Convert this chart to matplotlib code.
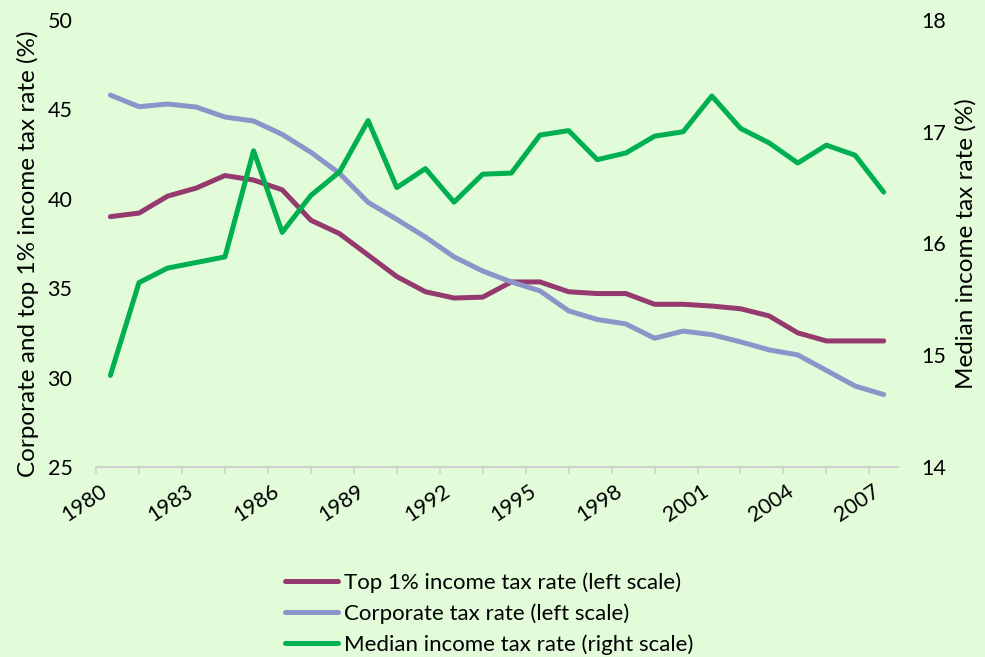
import numpy as np
import matplotlib
matplotlib.use("Agg")
import matplotlib.pyplot as plt

plt.rcParams['font.family'] = ['Lato', 'DejaVu Sans']

years = list(range(1980, 2008))
top1 = [39.0, 39.2, 40.15, 40.6, 41.3, 41.05, 40.5, 38.8, 38.05, 36.85,
        35.65, 34.8, 34.45, 34.5, 35.35, 35.35, 34.8, 34.7, 34.7, 34.1,
        34.1, 34.0, 33.85, 33.45, 32.5, 32.05, 32.05, 32.05]
corporate = [45.8, 45.15, 45.3, 45.13, 44.57, 44.35, 43.6, 42.6, 41.42, 39.8,
             38.85, 37.86, 36.75, 35.96, 35.35, 34.85, 33.73, 33.25, 33.0, 32.2,
             32.6, 32.4, 32.0, 31.55, 31.27, 30.4, 29.53, 29.05]
median = [14.82, 15.65, 15.78, 15.83, 15.88, 16.83, 16.1, 16.43, 16.64, 17.1,
          16.5, 16.67, 16.37, 16.62, 16.63, 16.97, 17.01, 16.75, 16.81, 16.96,
          17.0, 17.32, 17.03, 16.9, 16.72, 16.88, 16.79, 16.46]

bg = '#E2FCD9'
fig = plt.figure(figsize=(9.85, 6.57), dpi=100, facecolor=bg)
ax = fig.add_axes([0.0975, 0.2892, 0.8142, 0.6804], facecolor=bg)
ax2 = ax.twinx()

x = np.arange(len(years))
l1, = ax.plot(x, top1, color='#953A6E', lw=3.6, solid_capstyle='round', label='Top 1% income tax rate (left scale)')
l2, = ax.plot(x, corporate, color='#8C94CA', lw=3.6, solid_capstyle='round', label='Corporate tax rate (left scale)')
l3, = ax2.plot(x, median, color='#00B050', lw=3.6, solid_capstyle='round', label='Median income tax rate (right scale)')

ax.set_xlim(-0.5, len(years) - 0.5)
ax.set_ylim(25, 50)
ax.set_yticks(range(25, 51, 5))
ax2.set_ylim(14, 18)
ax2.set_yticks(range(14, 19))

ax.set_xticks(x[::3])
ax.set_xticklabels([str(y) for y in years[::3]], rotation=34, ha='right', fontsize=15.5)
ax.set_xticks(np.arange(-0.5, len(years) - 0.5, 1.5), minor=True)
ax.tick_params(axis='x', which='major', length=0, pad=10)
ax.tick_params(axis='x', which='minor', length=5, color='#D0D0D0', width=1.2)
ax.tick_params(axis='y', length=0, pad=17, labelsize=15.5)
ax2.tick_params(axis='y', length=0, pad=17, labelsize=15.5)

for a in (ax, ax2):
    for s in ('top', 'left', 'right'):
        a.spines[s].set_visible(False)
ax2.spines['bottom'].set_visible(False)
ax.spines['bottom'].set_color('#D0D0D0')
ax.spines['bottom'].set_linewidth(1.5)

ax.set_ylabel('Corporate and top 1% income tax rate (%)', fontsize=17.5)
ax.yaxis.set_label_coords(-0.071, 0.476)
ax2.set_ylabel('Median income tax rate (%)', fontsize=17.5, labelpad=6)

fig.legend(handles=[l1, l2, l3], loc='center left', bbox_to_anchor=(0.289, 0.066),
           frameon=False, fontsize=16, handlelength=2.4, handletextpad=0.27,
           labelspacing=0.47, borderpad=0, borderaxespad=0)

fig.savefig('out.png', dpi=100, facecolor=bg)
